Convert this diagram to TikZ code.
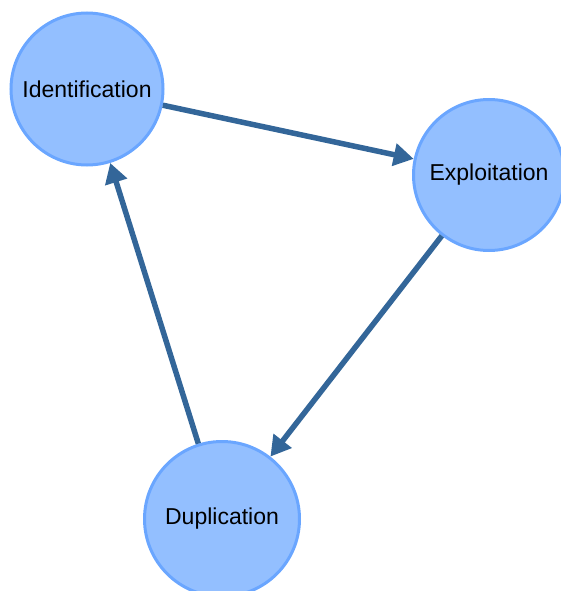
\documentclass[tikz,border=0pt]{standalone}
\usepackage{fontspec}
\setmainfont{Liberation Sans}
\usetikzlibrary{arrows.meta}
\definecolor{nodefill}{HTML}{93BFFF}
\definecolor{nodeborder}{HTML}{6AA6FF}
\definecolor{arrowcol}{HTML}{336699}
\begin{document}
\begin{tikzpicture}[x=1pt,y=1pt,
  stage/.style={circle, fill=nodefill, draw=nodeborder, line width=3pt, inner sep=0pt,
    font=\fontsize{23}{27}\selectfont, text=black},
  flow/.style={draw=arrowcol, line width=5.5pt, -{Triangle[length=20pt,width=22pt]}}]
\useasboundingbox (0,0) rectangle (561,-591);
\node[stage, minimum size=152pt] (id) at (87,-89) {Identification};
\node[stage, minimum size=151pt] (ex) at (489,-175) {Exploitation};
\node[stage, minimum size=155pt] (du) at (222,-519) {Duplication};
\draw[flow] (id) -- (ex);
\draw[flow] (ex) -- (du);
\draw[flow] (du) -- (id);
\end{tikzpicture}
\end{document}
